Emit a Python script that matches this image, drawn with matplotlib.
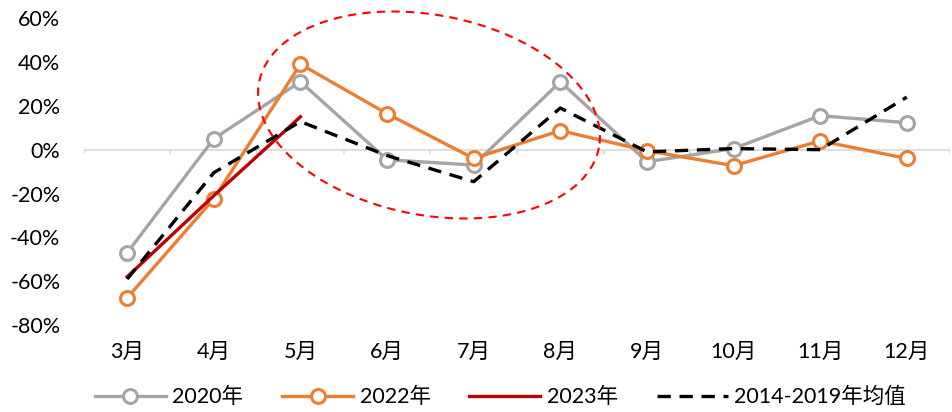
import numpy as np
import matplotlib.pyplot as plt
from matplotlib.ticker import FuncFormatter

plt.rcParams['font.family'] = ['Lato', 'Noto Sans CJK SC', 'DejaVu Sans']

months = ['3月', '4月', '5月', '6月', '7月', '8月', '9月', '10月', '11月', '12月']
y2020 = [-0.47, 0.05, 0.31, -0.046, -0.07, 0.31, -0.055, 0.005, 0.155, 0.123]
y2022 = [-0.676, -0.224, 0.39, 0.164, -0.04, 0.087, -0.005, -0.073, 0.04, -0.04]
y2023 = [-0.58, -0.21, 0.15]
avg_14_19 = [-0.59, -0.105, 0.128, -0.027, -0.146, 0.19, -0.01, 0.005, 0.0, 0.24]

fig = plt.figure(figsize=(9.53, 4.12), dpi=100)
ax = fig.add_axes([0.088, 0.211, 0.909, 0.745])

x = np.arange(len(months))
mk = dict(marker='o', markersize=10, markerfacecolor='white', markeredgewidth=2.2)
ax.plot(x, y2020, color='#A5A5A5', lw=2.4, label='2020年', zorder=3, **mk)
ax.plot(x, y2022, color='#ED7D31', lw=2.4, label='2022年', zorder=4, **mk)
ax.plot(x[:len(y2023)], y2023, color='#C00000', lw=2.4, label='2023年', zorder=5)
ax.plot(x, avg_14_19, color='black', lw=2.4, dashes=(4, 2.6), label='2014-2019年均值', zorder=6)

# zero axis line with category tick marks
ax.axhline(0, color='#D9D9D9', lw=1.2, zorder=1)
ax.vlines(np.arange(-0.5, len(months)), -0.022, 0, color='#D9D9D9', lw=1.2, zorder=1)

ax.set_xlim(-0.5, len(months) - 0.5)
ax.set_ylim(-0.8, 0.6)
ax.set_yticks(np.arange(-0.8, 0.61, 0.2))
ax.yaxis.set_major_formatter(FuncFormatter(lambda v, p: f'{round(v * 100):d}%'))
ax.set_xticks(x)
ax.set_xticklabels(months)
ax.tick_params(axis='both', length=0, labelsize=15.5, colors='black')
ax.tick_params(axis='x', pad=12)
ax.tick_params(axis='y', pad=17)
for s in ax.spines.values():
    s.set_visible(False)

# red dashed ellipse highlight (figure pixel space)
W, H = 953, 412
cx, cy, a, b, th = 429, 115, 173, 100, np.deg2rad(10.9)
t = np.linspace(0, 2 * np.pi, 400)
ex = cx + a * np.cos(t) * np.cos(th) - b * np.sin(t) * np.sin(th)
ey = cy + a * np.cos(t) * np.sin(th) + b * np.sin(t) * np.cos(th)
fig.add_artist(plt.Line2D(ex / W, 1 - ey / H, color='#FF0000', lw=1.5,
                          dashes=(4, 3), transform=fig.transFigure))

fig.legend(loc='center right', bbox_to_anchor=(906 / W, 1 - 397 / H), ncol=4, frameon=False,
           fontsize=15.5, handlelength=3.3, columnspacing=1.8, handletextpad=0.3,
           borderaxespad=0, borderpad=0)

fig.savefig('out.png', dpi=100)
